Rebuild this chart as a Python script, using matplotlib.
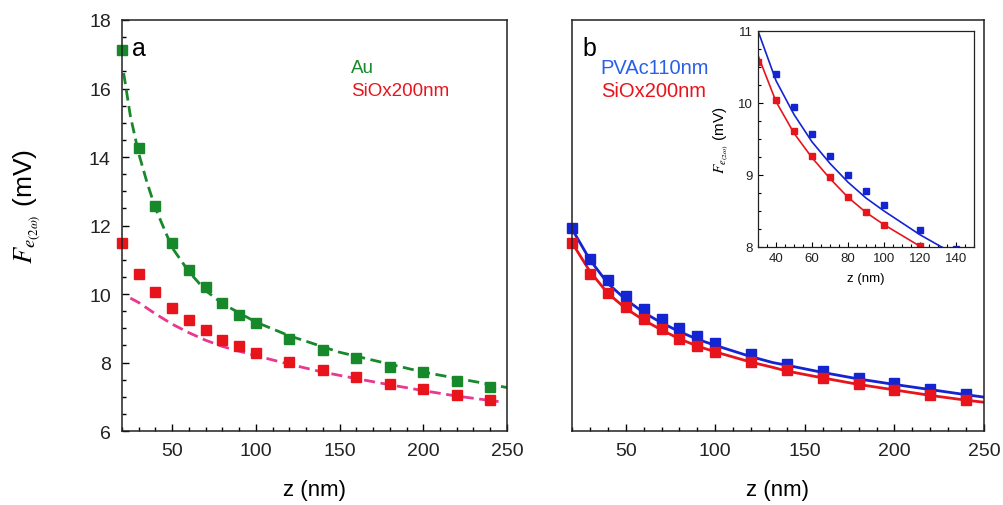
import numpy as np
import matplotlib.pyplot as plt

plt.rcParams['font.family'] = ['Liberation Sans', 'DejaVu Sans']
plt.rcParams['mathtext.fontset'] = 'stix'

# 数据 (a)
z = [20, 30, 40, 50, 60, 70, 80, 90, 100, 120, 140, 160, 180, 200, 220, 240]
au = [17.12, 14.27, 12.57, 11.49, 10.71, 10.2, 9.75, 9.4, 9.14, 8.7, 8.38, 8.12, 7.88, 7.72, 7.47, 7.28]
siox_a = [11.49, 10.58, 10.05, 9.6, 9.25, 8.96, 8.67, 8.48, 8.29, 8.01, 7.78, 7.58, 7.38, 7.22, 7.05, 6.92]

# 拟合虚线 (a)
fit_au_z = [21, 25, 30, 35, 40, 50, 60, 70, 80, 100, 120, 150, 200, 250]
fit_au = [16.45, 15.2, 14.1, 13.25, 12.5, 11.35, 10.65, 10.1, 9.72, 9.18, 8.78, 8.3, 7.72, 7.27]
fit_si_z = [25, 30, 40, 50, 60, 70, 80, 90, 100, 120, 140, 160, 180, 200, 220, 245]
fit_si = [9.88, 9.75, 9.42, 9.12, 8.87, 8.65, 8.47, 8.33, 8.2, 7.95, 7.72, 7.53, 7.35, 7.18, 7.02, 6.86]

# 数据 (b)
pvac = [11.92, 11.02, 10.4, 9.95, 9.57, 9.26, 9.0, 8.78, 8.58, 8.24, 7.97, 7.74, 7.56, 7.39, 7.23, 7.08]
siox_b = [11.49, 10.57, 10.04, 9.61, 9.27, 8.97, 8.7, 8.49, 8.31, 8.02, 7.77, 7.56, 7.36, 7.2, 7.04, 6.91]

# 拟合实线 (b)
line_z = [20, 30, 40, 50, 60, 70, 80, 90, 100, 120, 132, 140, 160, 180, 200, 220, 240, 250]
line_pvac = [11.9, 11.0, 10.31, 9.84, 9.46, 9.16, 8.9, 8.68, 8.5, 8.17, 8.0, 7.92, 7.71, 7.52, 7.36, 7.21, 7.06, 6.99]
line_siox = [11.5, 10.66, 10.02, 9.58, 9.24, 8.95, 8.69, 8.48, 8.31, 8.01, 7.86, 7.75, 7.55, 7.36, 7.2, 7.04, 6.9, 6.84]

green = '#17892b'
red = '#e8141c'
pink = '#e8388f'
blue = '#1424d0'

fig = plt.figure(figsize=(10.04, 5.06), dpi=100)

ylab = r'$F_{e_{(2\omega)}}$ (mV)'

# 图 a
ax1 = fig.add_axes([0.1215, 0.1462, 0.3834, 0.8123])
ax1.plot(fit_au_z, fit_au, '--', color=green, lw=2, dashes=(4, 2))
ax1.plot(fit_si_z, fit_si, '--', color=pink, lw=2, dashes=(4, 2))
ax1.plot(z, au, 's', color=green, ms=7.8, clip_on=False)
ax1.plot(z, siox_a, 's', color=red, ms=7.8, clip_on=False)
ax1.set_xlim(20, 250)
ax1.set_ylim(6, 18)
ax1.set_xticks([50, 100, 150, 200, 250])
ax1.set_xticks(np.arange(20, 251, 10), minor=True)
ax1.set_yticks([6, 8, 10, 12, 14, 16, 18])
ax1.set_yticks(np.arange(6, 18.1, 0.5), minor=True)
ax1.tick_params(which='both', direction='in', labelsize=14, width=1, labelcolor='#222222')
ax1.tick_params(which='major', length=5, pad=8)
ax1.tick_params(which='minor', length=3)
ax1.set_xlabel('z (nm)', fontsize=16, labelpad=14)
ax1.set_ylabel(ylab, fontsize=19)
ax1.yaxis.set_label_coords(-0.205, 0.55)
ax1.text(0.025, 0.96, 'a', transform=ax1.transAxes, fontsize=18, va='top')
ax1.text(0.595, 0.885, 'Au', transform=ax1.transAxes, fontsize=13.5, color=green, va='center')
ax1.text(0.595, 0.828, 'SiOx200nm', transform=ax1.transAxes, fontsize=13.5, color=red, va='center')

# 图 b
ax2 = fig.add_axes([0.5697, 0.1462, 0.4104, 0.8123])
ax2.plot(line_z, line_pvac, '-', color=blue, lw=2)
ax2.plot(line_z, line_siox, '-', color=red, lw=2)
ax2.plot(z, pvac, 's', color=blue, ms=7.8, clip_on=False)
ax2.plot(z, siox_b, 's', color=red, ms=7.8, clip_on=False)
ax2.set_xlim(20, 250)
ax2.set_ylim(6, 18)
ax2.set_xticks([50, 100, 150, 200, 250])
ax2.set_xticks(np.arange(20, 251, 10), minor=True)
ax2.set_yticks([])
ax2.tick_params(which='both', direction='in', labelsize=14, width=1, labelcolor='#222222')
ax2.tick_params(which='major', length=5, pad=8)
ax2.tick_params(which='minor', length=3)
ax2.set_xlabel('z (nm)', fontsize=16, labelpad=14)
ax2.text(0.025, 0.96, 'b', transform=ax2.transAxes, fontsize=18, va='top')
ax2.text(0.07, 0.885, 'PVAc110nm', transform=ax2.transAxes, fontsize=14.5, color='#2860e8', va='center')
ax2.text(0.07, 0.828, 'SiOx200nm', transform=ax2.transAxes, fontsize=14.5, color=red, va='center')

# 插图 (z = 30 的蓝点在上边界外, 不画)
ax3 = fig.add_axes([0.755, 0.5099, 0.2151, 0.4269])
ax3.plot(line_z, line_pvac, '-', color=blue, lw=1.2)
ax3.plot(line_z, line_siox, '-', color=red, lw=1.2)
ax3.plot(z[2:], pvac[2:], 's', color=blue, ms=4.3)
ax3.plot(z, siox_b, 's', color=red, ms=4.3)
ax3.set_xlim(30, 150)
ax3.set_ylim(8, 11)
ax3.set_xticks([40, 60, 80, 100, 120, 140])
ax3.set_xticks(np.arange(30, 151, 5), minor=True)
ax3.set_yticks([8, 9, 10, 11])
ax3.set_yticks(np.arange(8, 11.01, 0.25), minor=True)
ax3.tick_params(which='both', direction='in', labelsize=9.5, width=0.8, labelcolor='#222222')
ax3.tick_params(which='major', length=3.5)
ax3.tick_params(which='minor', length=2)
ax3.set_xlabel('z (nm)', fontsize=9.5, labelpad=6)
ax3.set_ylabel(ylab, fontsize=11, labelpad=5)

for ax in (ax1, ax2, ax3):
    for s in ax.spines.values():
        s.set_linewidth(1.1 if ax is not ax3 else 0.9)
        s.set_color('#222222')

fig.savefig('out.png', dpi=100)
